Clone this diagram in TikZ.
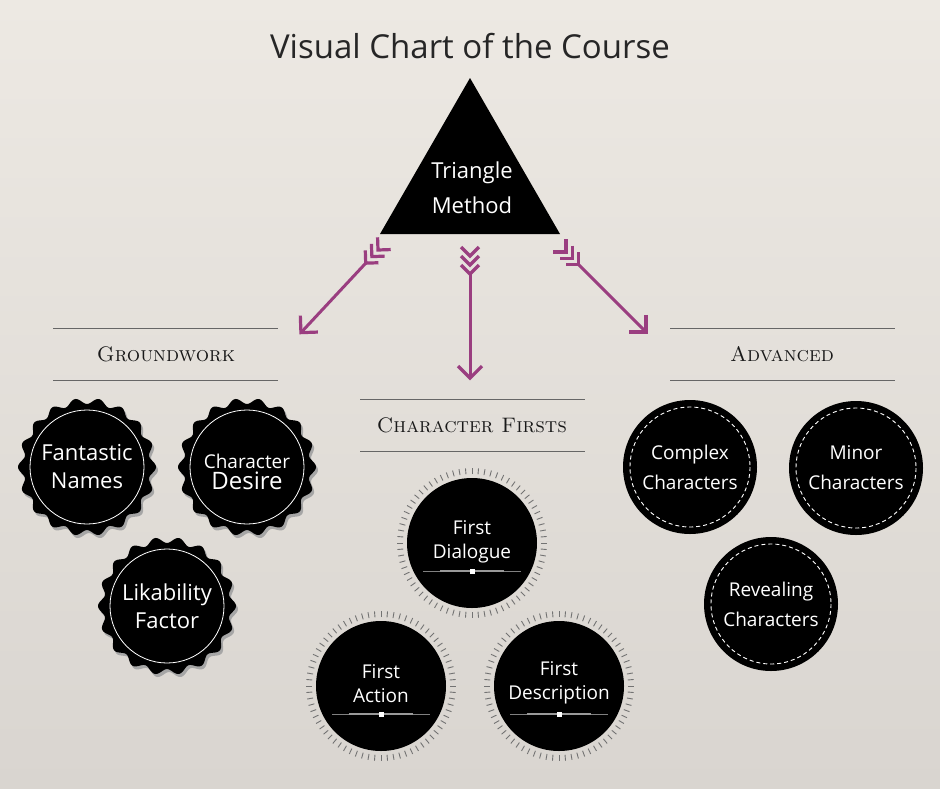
\documentclass[tikz,border=0pt]{standalone}
\usepackage{fontspec}
\setsansfont{Open Sans}
\usetikzlibrary{arrows.meta}
\definecolor{plum}{HTML}{9A3E80}
\definecolor{bgA}{HTML}{EDE9E3}
\definecolor{bgB}{HTML}{D9D5D0}
\tikzset{
  lbl/.style={text=white,font=\sffamily\fontsize{21}{25}\selectfont,align=center},
  head/.style={font=\rmfamily\scshape\fontsize{21}{24}\selectfont,text=black!90},
  rule/.style={draw=black!60,line width=1pt},
}
\newcommand{\fletcharrow}[4]{% x,y,angle,length
  \begin{scope}[shift={(#1,#2)},rotate=#3]
    \foreach \s in {0,9,18}{\draw[plum,line width=3.2pt] (\s-9,-9)--(\s,0)--(\s-9,9);}
    \draw[plum,line width=3pt] (18,0)--(#4,0);
    \draw[plum,line width=3.2pt] (#4-12,-12)--(#4,0)--(#4-12,12);
  \end{scope}}
\newcommand{\scallop}[3]{% x,y,name
  \fill[gray!70] plot[domain=0:360,samples=240,smooth] ({#1+2+(66+3*cos(18*\x))*cos(\x)},{#2+3+(66+3*cos(18*\x))*sin(\x)}) -- cycle;
  \fill[black] plot[domain=0:360,samples=240,smooth] ({#1+(66+3*cos(18*\x))*cos(\x)},{#2+(66+3*cos(18*\x))*sin(\x)}) -- cycle;
  \node[circle,draw=white,line width=0.8pt,minimum size=114pt,inner sep=0pt] (#3) at (#1,#2) {};}
\newcommand{\ticked}[3]{%
  \foreach \a in {0,5,...,355}{\draw[black!55,line width=0.9pt] ({#1+69*cos(\a)},{#2+69*sin(\a)})--({#1+75*cos(\a)},{#2+75*sin(\a)});}
  \node[circle,fill=black,minimum size=130pt,inner sep=0pt] (#3) at (#1,#2) {};
  \draw[gray,line width=0.8pt] (#1-49,#2+28)--(#1+49,#2+28);
  \draw[gray!80,line width=1.6pt] (#1-32,#2+28)--(#1+32,#2+28);
  \fill[white] (#1-2.5,#2+25.5) rectangle (#1+2.5,#2+30.5);}
\newcommand{\dashedc}[3]{%
  \node[circle,fill=black,minimum size=134pt,inner sep=0pt] (#3) at (#1,#2) {};
  \draw[white,dashed,line width=0.9pt,dash pattern=on 4pt off 3pt] (#1,#2) circle (60);}
\begin{document}
\begin{tikzpicture}[x=1pt,y=-1pt]
\shade[top color=bgA,bottom color=bgB] (0,0) rectangle (940,788);
\useasboundingbox (0,0) rectangle (940,788);
\node[font=\sffamily\fontsize{33}{38}\selectfont,text=black!85] (title) at (470,46) {Visual Chart of the Course};
\fill[black] (470,78)--(560,234)--(380,234)--cycle;
\node[lbl,font=\sffamily\fontsize{22}{35}\selectfont] (tri) at (472,188) {Triangle\\Method};
% arrows
\fletcharrow{378}{250}{-133}{113}
\fletcharrow{470}{256}{-90}{122}
\fletcharrow{566}{252}{-45}{113}
% headings
\draw[rule] (53,328)--(278,328); \draw[rule] (53,380)--(278,380);
\node[head] (gw) at (166,354) {Groundwork};
\draw[rule] (360,399)--(585,399); \draw[rule] (360,451)--(585,451);
\node[head] (cf) at (472,425) {Character Firsts};
\draw[rule] (670,328)--(895,328); \draw[rule] (670,380)--(895,380);
\node[head] (adv) at (782,354) {Advanced};
% groundwork
\scallop{87}{467}{b1}
\scallop{247}{467}{b2}
\scallop{167}{606}{b3}
\node[lbl,font=\sffamily\fontsize{22}{28}\selectfont] at (b1) {Fantastic\\Names};
\node[lbl,font=\sffamily] at (247,472) {\fontsize{19}{22}\selectfont Character\\[2pt]\fontsize{24}{26}\selectfont Desire};
\node[lbl,font=\sffamily\fontsize{22}{28}\selectfont] at (b3) {Likability\\Factor};
% character firsts
\ticked{472}{543}{c1}
\ticked{381}{686}{c2}
\ticked{559}{686}{c3}
\node[lbl,font=\sffamily\fontsize{19}{24}\selectfont] at (472,542) {First\\Dialogue};
\node[lbl,font=\sffamily\fontsize{19}{24}\selectfont] at (381,684) {First\\Action};
\node[lbl,font=\sffamily\fontsize{19}{24}\selectfont] at (559,683) {First\\Description};
% advanced
\dashedc{690}{467}{d1}
\dashedc{856}{468}{d2}
\dashedc{771}{604}{d3}
\node[lbl,font=\sffamily\fontsize{19}{30}\selectfont] at (d1) {Complex\\Characters};
\node[lbl,font=\sffamily\fontsize{19}{30}\selectfont] at (d2) {Minor\\Characters};
\node[lbl,font=\sffamily\fontsize{19}{30}\selectfont] at (d3) {Revealing\\Characters};
\end{tikzpicture}
\end{document}
